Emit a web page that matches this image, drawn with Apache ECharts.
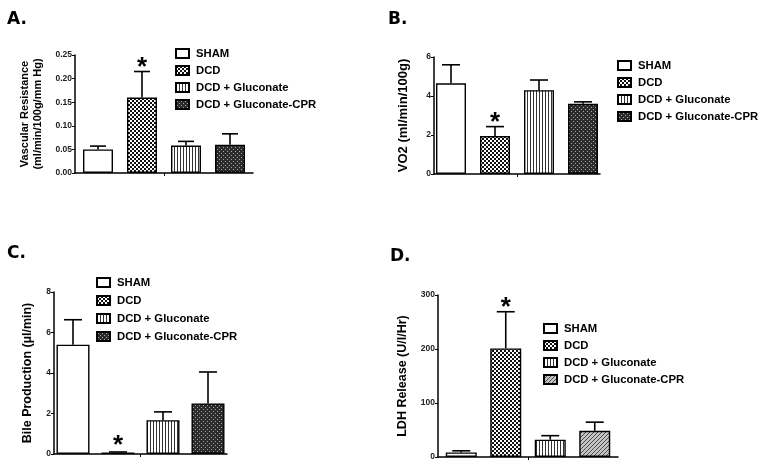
<!DOCTYPE html>
<html>
<head>
<meta charset="utf-8">
<script src="https://cdn.jsdelivr.net/npm/echarts@6/dist/echarts.min.js"></script>
<style>
html,body{margin:0;padding:0;background:#fff;}
.p{position:absolute;}
</style>
</head>
<body>
<div id="a" class="p" style="left:0;top:0;width:380px;height:230px;"></div>
<div id="b" class="p" style="left:380px;top:0;width:384px;height:230px;"></div>
<div id="c" class="p" style="left:0;top:230px;width:380px;height:242px;"></div>
<div id="d" class="p" style="left:380px;top:230px;width:384px;height:242px;"></div>
<script>
// ---- data ----
const groups = ['SHAM', 'DCD', 'DCD + Gluconate', 'DCD + Gluconate-CPR'];

const vrMean = [0.050, 0.160, 0.058, 0.060];
const vrErr  = [0.007, 0.055, 0.009, 0.023];
const vrSig  = [0, 1, 0, 0];
const vrTicks = [0, 0.05, 0.10, 0.15, 0.20, 0.25];

const vo2Mean = [4.65, 1.95, 4.30, 3.60];
const vo2Err  = [0.95, 0.48, 0.52, 0.10];
const vo2Sig  = [0, 1, 0, 0];
const vo2Ticks = [0, 2, 4, 6];

const bileMean = [5.40, 0.07, 1.67, 2.50];
const bileErr  = [1.23, 0.03, 0.41, 1.55];
const bileSig  = [0, 1, 0, 0];
const bileTicks = [0, 2, 4, 6, 8];

const ldhMean = [8.5, 201, 32, 48.5];
const ldhErr  = [3, 68, 7.5, 16];
const ldhSig  = [0, 1, 0, 0];
const ldhTicks = [0, 100, 200, 300];

// ---- patterns ----
function pat(w, h, bg, draw) {
  const c = document.createElement('canvas');
  c.width = w; c.height = h;
  const g = c.getContext('2d');
  g.fillStyle = bg; g.fillRect(0, 0, w, h);
  draw(g);
  return { image: c, repeat: 'repeat' };
}
const pWhite = '#ffffff';
const pChecker = pat(4, 4, '#ffffff', g => { g.fillStyle = '#111'; g.fillRect(0, 0, 2, 2); g.fillRect(2, 2, 2, 2); });
const pStripes = pat(3, 1, '#ffffff', g => { g.fillStyle = '#333'; g.fillRect(0, 0, 1, 1); });
const pDark = pat(4, 4, '#2b2b2b', g => { g.fillStyle = '#a8a8a8'; g.fillRect(1, 1, 1, 1); g.fillRect(3, 3, 1, 1); });
const pHatch = pat(4, 4, '#c4c4c4', g => { g.fillStyle = '#4a4a4a'; g.fillRect(0, 3, 1, 1); g.fillRect(1, 2, 1, 1); g.fillRect(2, 1, 1, 1); g.fillRect(3, 0, 1, 1); });

const FONT = 'Liberation Sans, Arial, sans-serif';

function build(el, cfg) {
  const chart = echarts.init(document.getElementById(el), null, { renderer: 'canvas' });
  const W = cfg.barW, G = cfg.gap;
  const series = groups.map((name, i) => ({
    type: 'bar', name: name, data: [cfg.mean[i]],
    barWidth: W, barGap: (G / W * 100) + '%',
    itemStyle: { color: cfg.fills[i], borderColor: '#000', borderWidth: 1.4 },
    emphasis: { disabled: true }, silent: true, z: 2
  }));
  series.push({
    type: 'custom', name: 'err', silent: true, z: 5,
    data: cfg.mean.map((m, i) => [0, m, cfg.err[i], i, cfg.sig[i]]),
    encode: { x: 0, y: 1 },
    renderItem: function (params, api) {
      const idx = api.value(3);
      const m = api.value(1), e = api.value(2);
      const b = api.coord([0, m]);
      const t = api.coord([0, m + e]);
      const x = b[0] + (idx - 1.5) * (W + G);
      const cap = cfg.cap / 2;
      const ls = { stroke: '#000', lineWidth: 1.6 };
      const children = [
        { type: 'line', shape: { x1: x, y1: b[1], x2: x, y2: t[1] }, style: ls },
        { type: 'line', shape: { x1: x - cap, y1: t[1], x2: x + cap, y2: t[1] }, style: ls }
      ];
      if (api.value(4)) {
        children.push({ type: 'text', style: { text: '*', x: x, y: t[1] - cfg.starOff, textAlign: 'center', textVerticalAlign: 'middle', font: 'bold 26px ' + FONT, fill: '#000' } });
      }
      return { type: 'group', children: children };
    }
  });
  const ticks = cfg.ticks;
  chart.setOption({
    animation: false,
    backgroundColor: '#fff',
    title: { text: cfg.title, left: cfg.titleX, top: cfg.titleY, padding: 0, textStyle: { fontFamily: 'DejaVu Sans', fontWeight: 'bold', fontSize: 17, color: '#000' } },
    legend: {
      data: groups, orient: 'vertical', left: cfg.legX, top: cfg.legY, padding: 0,
      itemWidth: 13, itemHeight: 9, itemGap: cfg.legGap, icon: 'rect', selectedMode: false,
      textStyle: { fontFamily: FONT, fontWeight: 'bold', fontSize: 11.3, color: '#000', padding: [0, 0, 0, 2] }
    },
    grid: { left: cfg.grid[0], top: cfg.grid[1], width: cfg.grid[2], height: cfg.grid[3], containLabel: false },
    xAxis: {
      type: 'category', data: [''],
      axisLine: { lineStyle: { color: '#000', width: 1.5 } },
      axisTick: { show: true, alignWithLabel: true, length: 3, lineStyle: { color: '#000', width: 1 } },
      axisLabel: { show: false }, splitLine: { show: false }
    },
    yAxis: {
      type: 'value', min: ticks[0], max: ticks[ticks.length - 1], interval: ticks[1] - ticks[0],
      name: cfg.yName, nameLocation: 'middle', nameGap: cfg.nameGap, nameRotate: 90,
      nameTextStyle: { fontFamily: FONT, fontWeight: 'bold', fontSize: cfg.nameSize, lineHeight: cfg.nameSize + 2, color: '#000' },
      axisLine: { show: true, lineStyle: { color: '#000', width: 1.5 } },
      axisTick: { show: true, length: 3, lineStyle: { color: '#000', width: 1 } },
      axisLabel: { fontFamily: FONT, fontWeight: 'bold', fontSize: 8.5, color: '#222', margin: 3, formatter: v => v.toFixed(cfg.dec) },
      splitLine: { show: false }
    },
    series: series
  });
}

build('a', {
  title: 'A.', titleX: 7, titleY: 11,
  mean: vrMean, err: vrErr, sig: vrSig, ticks: vrTicks, dec: 2,
  fills: [pWhite, pChecker, pStripes, pDark],
  grid: [75, 55, 178, 118], barW: 30, gap: 14, cap: 16, starOff: 4,
  yName: 'Vascular Resistance\n(ml/min/100g/mm Hg)', nameGap: 31, nameSize: 11,
  legX: 175, legY: 48, legGap: 6
});
build('b', {
  title: 'B.', titleX: 8, titleY: 11,
  mean: vo2Mean, err: vo2Err, sig: vo2Sig, ticks: vo2Ticks, dec: 0,
  fills: [pWhite, pChecker, pStripes, pDark],
  grid: [54, 57, 166, 117], barW: 30, gap: 14, cap: 18, starOff: 4,
  yName: 'VO2 (ml/min/100g)', nameGap: 23, nameSize: 13,
  legX: 237, legY: 60, legGap: 6
});
build('c', {
  title: 'C.', titleX: 7, titleY: 15,
  mean: bileMean, err: bileErr, sig: bileSig, ticks: bileTicks, dec: 0,
  fills: [pWhite, pChecker, pStripes, pDark],
  grid: [54, 62, 173, 162], barW: 33, gap: 12, cap: 18, starOff: 6,
  yName: 'Bile Production (µl/min)', nameGap: 19, nameSize: 12.5,
  legX: 96, legY: 47, legGap: 7
});
build('d', {
  title: 'D.', titleX: 10, titleY: 18,
  mean: ldhMean, err: ldhErr, sig: ldhSig, ticks: ldhTicks, dec: 0,
  fills: [pWhite, pChecker, pStripes, pHatch],
  grid: [58, 65, 180, 162], barW: 31, gap: 13.5, cap: 18, starOff: 4,
  yName: 'LDH Release (U/l/Hr)', nameGap: 28, nameSize: 12.5,
  legX: 163, legY: 93, legGap: 6
});
</script>
</body>
</html>
